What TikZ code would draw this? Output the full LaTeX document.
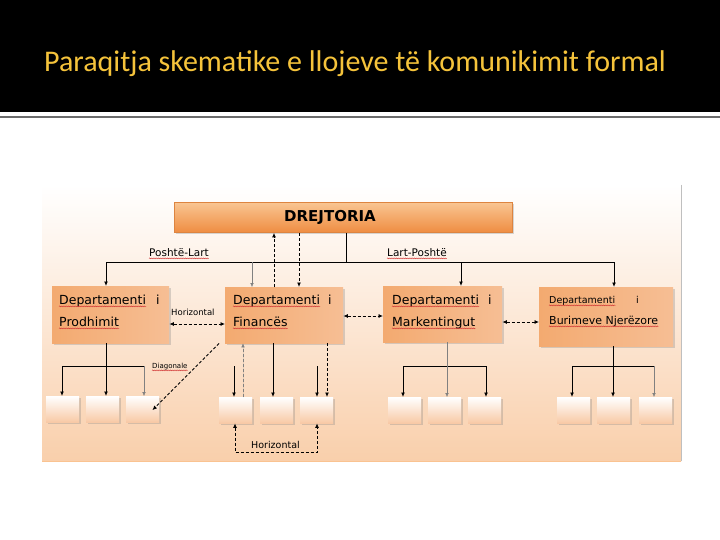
\documentclass[tikz,border=0pt]{standalone}
\usepackage{fontspec}
\setmainfont{DejaVu Sans}
\newfontfamily\titlefont{Carlito}
\usetikzlibrary{arrows.meta,shadows,decorations.pathmorphing}
\definecolor{titlegold}{HTML}{F5C33B}
\definecolor{bgpeach}{HTML}{F9CFAB}
\definecolor{orangeD}{HTML}{EF8D42}
\definecolor{orangeL}{HTML}{F9C592}
\definecolor{orangeB}{HTML}{DD8440}
\definecolor{boxL}{HTML}{F3AA70}
\definecolor{boxM}{HTML}{FDE8D8}
\definecolor{boxR}{HTML}{F6BE94}
\definecolor{smallB}{HTML}{F8C9A5}
\definecolor{squigred}{HTML}{D03030}
\newcommand{\sq}[1]{\draw[squig] ([yshift=-2.4pt]#1.base west) -- ([yshift=-2.4pt]#1.base east);}
\begin{document}
\begin{tikzpicture}[x=1pt,y=-1pt,
  shad/.style={drop shadow={shadow xshift=1.5pt,shadow yshift=-1.5pt,opacity=0.3}},
  dept/.style={shad,draw=none,left color=boxL,middle color=boxM,right color=boxR,anchor=north west,inner sep=0pt},
  small/.style={shad,draw=none,top color=white,bottom color=smallB,anchor=north west,inner sep=0pt,minimum width=33pt,minimum height=26pt},
  txt/.style={anchor=base west,inner sep=0pt,font=\fontsize{12.5}{14}\selectfont},
  stxt/.style={anchor=base west,inner sep=0pt,font=\fontsize{9.5}{11}\selectfont},
  lbl/.style={anchor=base west,inner sep=0pt,font=\fontsize{10.5}{12}\selectfont},
  tiny/.style={anchor=base west,inner sep=0pt,font=\fontsize{7}{8}\selectfont},
  squig/.style={squigred,line width=0.35pt,decorate,decoration={snake,amplitude=0.5pt,segment length=1.8pt}},
  ln/.style={line width=0.9pt},
  arr/.style={-{Latex[length=4.5pt,width=4pt]},line width=0.9pt},
  garr/.style={-{Latex[length=4pt,width=3.5pt]},line width=0.4pt,draw=gray,fill=gray!60!black},
  darr/.style={arr,dash pattern=on 3pt off 2pt},
  gdarr/.style={garr,dash pattern=on 3pt off 2pt},
  dbl/.style={{Latex[length=4.5pt,width=4pt]}-{Latex[length=4.5pt,width=4pt]},line width=0.8pt,dash pattern=on 3pt off 2pt}
]
\useasboundingbox (0,0) rectangle (720,540);
\fill[white] (0,0) rectangle (720,540);
% header
\fill[black] (0,0) rectangle (720,112);
\draw[gray!85!black,line width=1.6pt] (0,117) -- (720,117);
\node[anchor=base,inner sep=0pt,font=\titlefont\fontsize{30}{34}\selectfont,text=titlegold] (title) at (355,72) {Paraqitja skematike e llojeve të komunikimit formal};
% background panel
\shade[top color=white,bottom color=bgpeach] (42,185) rectangle (681,461);
\draw[gray!50,line width=0.8pt] (681,185) -- (681,461);
\draw[bgpeach!85!orange,line width=0.8pt] (42,461) -- (681,461);
% top box
\node[shad,draw=orangeB,line width=0.8pt,top color=orangeL,bottom color=orangeD,anchor=north west,inner sep=0pt,minimum width=338pt,minimum height=30pt] (dre) at (174,202) {};
\node[inner sep=0pt,font=\bfseries\fontsize{15}{17}\selectfont] (dreT) at (330,217) {DREJTORIA};
% departments
\node[dept,minimum width=117pt,minimum height=57pt] (prod) at (52,286) {};
\node[dept,minimum width=118pt,minimum height=56pt] (fin) at (225,287) {};
\node[dept,minimum width=119pt,minimum height=56pt] (mark) at (383,286) {};
\node[dept,minimum width=134pt,minimum height=59pt] (bur) at (539,287) {};
\node[txt] (prodD) at (59,304) {Departamenti};
\node[txt] (prodI) at (156,304) {i};
\node[txt] (prodN) at (59,326) {Prodhimit};
\node[txt] (finD) at (233,304) {Departamenti};
\node[txt] (finI) at (328,304) {i};
\node[txt] (finN) at (233,326) {Financës};
\node[txt] (markD) at (392,304) {Departamenti};
\node[txt] (markI) at (488,304) {i};
\node[txt] (markN) at (392,326) {Markentingut};
\node[stxt] (burD) at (549,303) {Departamenti};
\node[stxt] (burI) at (636,303) {i};
\node[anchor=base west,inner sep=0pt,font=\fontsize{11}{13}\selectfont] (burN) at (549,324) {Burimeve Njerëzore};
% small boxes
\node[small] (b1) at (46,396) {};
\node[small] (b2) at (86,396) {};
\node[small] (b3) at (126,396) {};
\node[small] (b4) at (219,397) {};
\node[small] (b5) at (260,397) {};
\node[small] (b6) at (300,397) {};
\node[small] (b7) at (388,397) {};
\node[small] (b8) at (428,397) {};
\node[small] (b9) at (468,397) {};
\node[small] (b10) at (557,397) {};
\node[small] (b11) at (597,397) {};
\node[small] (b12) at (639,397) {};
% labels
\node[lbl] (lblPL) at (149,256) {Poshtë-Lart};
\node[lbl] (lblLP) at (387,256) {Lart-Poshtë};
\node[anchor=base west,inner sep=0pt,font=\fontsize{8.5}{10}\selectfont] (lblH1) at (171,315) {Horizontal};
\node[tiny] (lblD) at (152,368) {Diagonale};
\node[anchor=base west,inner sep=0pt,font=\fontsize{9.5}{11}\selectfont] (lblH2) at (251,448) {Horizontal};
\sq{lblPL}\sq{lblLP}\sq{prodD}\sq{prodN}\sq{finD}\sq{finN}\sq{markD}\sq{markN}\sq{burD}\sq{burN}\sq{lblD}
% top distribution bar
\coordinate (barL) at (106,262);
\coordinate (barR) at (614,262);
\coordinate (jT) at (346,262);
\coordinate (jF) at (252,262);
\coordinate (jM) at (461,262);
\draw[ln] (jT |- dre.south) -- (jT);
\draw[ln] (barL) -- (barR);
\draw[arr] (barL) -- (barL |- prod.north);
\draw[arr] (barR) -- (barR |- bur.north);
\draw[arr] (jM) -- (jM |- mark.north);
\draw[garr] (jF) -- (jF |- fin.north);
% director <-> finance dashed
\coordinate (d1) at (274,0);
\coordinate (d2) at (299,0);
\draw[darr] (d1 |- fin.north) -- (d1 |- dre.south);
\draw[darr] (d2 |- dre.south) -- (d2 |- fin.north);
% horizontal dashed between departments
\coordinate (h1) at (0,324);
\coordinate (h2) at (0,316);
\coordinate (h3) at (0,322);
\draw[dbl] (prod.east |- h1) -- (fin.west |- h1);
\draw[dbl] (fin.east |- h2) -- (mark.west |- h2);
\draw[dbl] (mark.east |- h3) -- (bur.west |- h3);
% production group
\coordinate (pb1) at (62,366);
\coordinate (pb2) at (106,366);
\coordinate (pb3) at (144,366);
\draw[ln] (pb1) -- (pb3);
\draw[arr] (pb1) -- (pb1 |- b1.north);
\draw[arr] (pb2 |- prod.south) -- (pb2 |- b2.north);
\draw[garr] (pb3) -- (pb3 |- b3.north);
\draw[darr] ([xshift=-6pt]fin.south west) -- ([xshift=-7pt,yshift=-1pt]b3.east);
% finance group
\coordinate (f1) at (234,366);
\coordinate (f2) at (243,0);
\coordinate (f3) at (273,0);
\coordinate (f4) at (317,366);
\coordinate (f5) at (327,0);
\coordinate (fL) at (235,0);
\coordinate (fR) at (317,0);
\coordinate (fB) at (276,452);
\draw[arr] (f1) -- (f1 |- b4.north);
\draw[gdarr] (f2 |- b4.north) -- (f2 |- fin.south);
\draw[arr] (f3 |- fin.south) -- (f3 |- b5.north);
\draw[arr] (f4) -- (f4 |- b6.north);
\draw[darr] (f5 |- fin.south) -- (f5 |- b6.north);
\draw[dbl] (fL |- b4.south) |- (fB) -| (fR |- b6.south);
% marketing group
\coordinate (m1) at (403,366);
\coordinate (m2) at (447,0);
\coordinate (m3) at (486,366);
\draw[ln] (m1) -- (m3);
\draw[arr] (m1) -- (m1 |- b7.north);
\draw[arr] (m3) -- (m3 |- b9.north);
\draw[garr] (m2 |- mark.south) -- (m2 |- b8.north);
% HR group
\coordinate (r1) at (572,366);
\coordinate (r2) at (613,0);
\coordinate (r3) at (654,366);
\draw[ln] (r1) -- (r3);
\draw[arr] (r1) -- (r1 |- b10.north);
\draw[arr] (r2 |- bur.south) -- (r2 |- b11.north);
\draw[garr] (r3) -- (r3 |- b12.north);
\end{tikzpicture}
\end{document}
